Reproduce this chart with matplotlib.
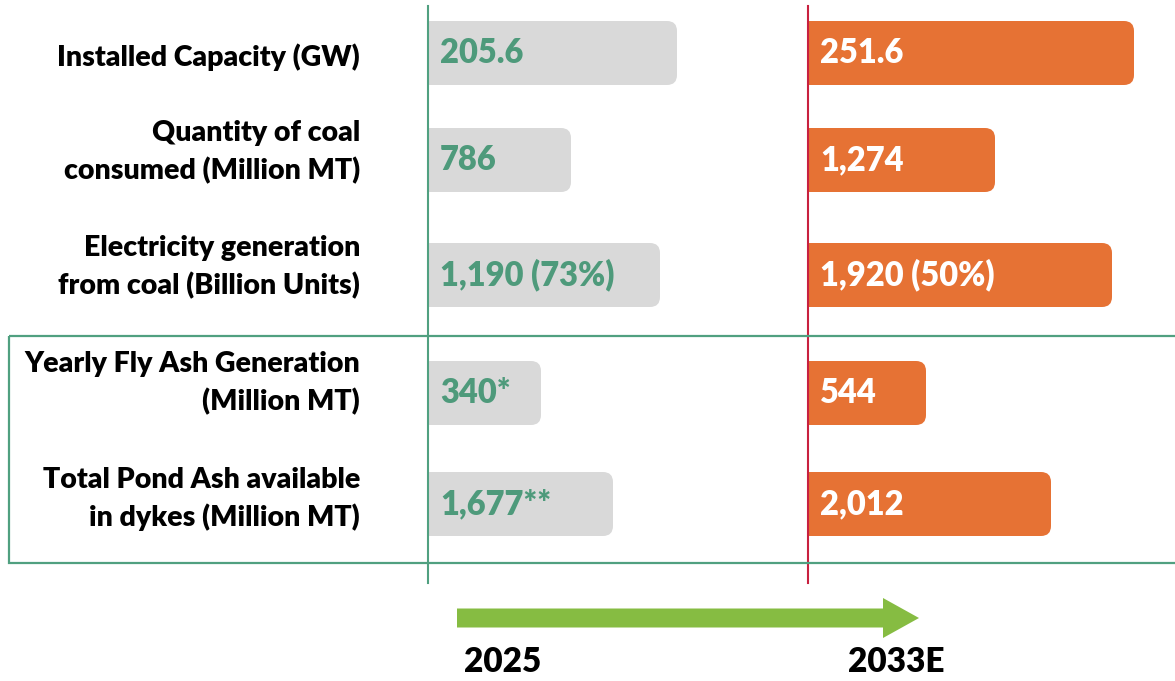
import matplotlib.pyplot as plt
from matplotlib.patches import FancyBboxPatch, Rectangle, FancyArrow

plt.rcParams['font.family'] = ['Lato', 'DejaVu Sans']

# rows, top to bottom
labels = ['Installed Capacity (GW)',
          'Quantity of coal\nconsumed (Million MT)',
          'Electricity generation\nfrom coal (Billion Units)',
          'Yearly Fly Ash Generation\n(Million MT)',
          'Total Pond Ash available\nin dykes (Million MT)']
text_2025 = ['205.6', '786', '1,190 (73%)', '340*', '1,677**']
text_2033 = ['251.6', '1,274', '1,920 (50%)', '544', '2,012']
# bar lengths as drawn (not proportional to the values)
len_2025 = [249, 143, 232, 113, 185]
len_2033 = [326, 187, 304, 118, 243]
years = ['2025', '2033E']

# layout in pixels
row_y = [53, 160, 275, 393, 504]
label_y = [57, 152, 267, 383, 499]
x0_2025, x0_2033 = 428, 808
bar_h = 64
green_line = '#50A080'
green_txt = '#4E9A7B'
gray = '#D9D9D9'
orange = '#E67234'
red_line = '#C8203F'
weight = 'heavy'

fig = plt.figure(figsize=(11.75, 6.81), dpi=100)
ax = fig.add_axes([0, 0, 1, 1])
ax.set_xlim(0, 1175)
ax.set_ylim(681, 0)
ax.axis('off')


def rounded_bars(x0, lengths, color):
    bars = ax.barh(row_y, lengths, left=x0, height=bar_h, color='none')
    for b in bars:
        x, y, w, h = b.get_x(), b.get_y(), b.get_width(), b.get_height()
        r = 10
        ax.add_patch(FancyBboxPatch((x + r, y + r), w - 2 * r, h - 2 * r,
                                    boxstyle=f'round,pad={r}', fc=color, ec='none', zorder=2))
        ax.add_patch(Rectangle((x, y), w / 2, h, fc=color, ec='none', zorder=2))


rounded_bars(x0_2025, len_2025, gray)
rounded_bars(x0_2033, len_2033, orange)

for i in range(len(labels)):
    ax.text(360, label_y[i], labels[i], ha='right', va='center', fontsize=20.5,
            fontweight=weight, color='black', linespacing=1.5)
    ax.text(x0_2025 + 12, row_y[i], text_2025[i], ha='left', va='center',
            fontsize=23.5, fontweight=weight, color=green_txt, zorder=3)
    ax.text(x0_2033 + 12, row_y[i], text_2033[i], ha='left', va='center',
            fontsize=23.5, fontweight=weight, color='white', zorder=3)

# separators
ax.plot([x0_2025, x0_2025], [6, 583], color=green_line, lw=1.5, zorder=4)
ax.plot([x0_2033, x0_2033], [6, 583], color=red_line, lw=1.5, zorder=4)
ax.add_patch(Rectangle((9, 336), 1170, 227, fc='none', ec=green_line, lw=1.6, zorder=4))

# timeline arrow
ax.add_patch(FancyArrow(457, 618, 462, 0, width=19, head_width=40, head_length=36,
                        length_includes_head=True, fc='#86BC42', ec='none'))
ax.text(503, 662, years[0], ha='center', va='center', fontsize=24, fontweight=weight)
ax.text(896, 662, years[1], ha='center', va='center', fontsize=24, fontweight=weight)

fig.savefig('out.png', dpi=100)
